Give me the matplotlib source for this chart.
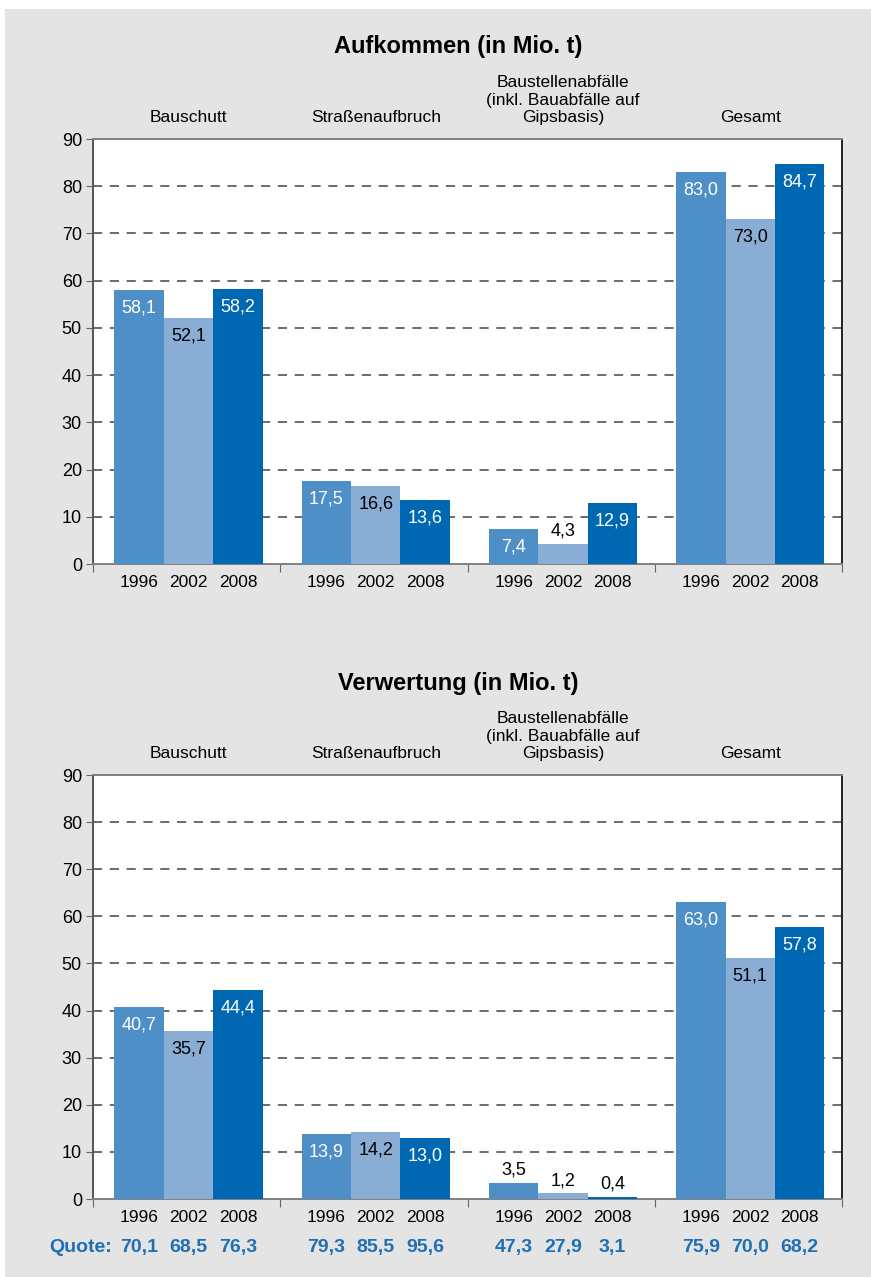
import matplotlib
matplotlib.use('Agg')
import matplotlib.pyplot as plt
import matplotlib.transforms as mtransforms
from matplotlib.patches import Rectangle
import numpy as np

plt.rcParams['font.family'] = ['Liberation Sans', 'DejaVu Sans']

categories = ['Bauschutt', 'Straßenaufbruch',
              'Baustellenabfälle\n(inkl. Bauabfälle auf\nGipsbasis)', 'Gesamt']
years = ['1996', '2002', '2008']

aufkommen_1996 = [58.1, 17.5, 7.4, 83.0]
aufkommen_2002 = [52.1, 16.6, 4.3, 73.0]
aufkommen_2008 = [58.2, 13.6, 12.9, 84.7]

verwertung_1996 = [40.7, 13.9, 3.5, 63.0]
verwertung_2002 = [35.7, 14.2, 1.2, 51.1]
verwertung_2008 = [44.4, 13.0, 0.4, 57.8]

quote_1996 = [70.1, 79.3, 47.3, 75.9]
quote_2002 = [68.5, 85.5, 27.9, 70.0]
quote_2008 = [76.3, 95.6, 3.1, 68.2]

yticks = [0, 10, 20, 30, 40, 50, 60, 70, 80, 90]

colors = ['#4f8fc8', '#8aadd6', '#0068b2']
label_colors = ['white', 'black', 'white']
bg = '#e3e4e3'
quote_blue = '#1f6fb6'

W, H = 871, 1277
fig = plt.figure(figsize=(W / 100, H / 100), dpi=100)
fig.patch.set_facecolor('white')
fig.patches.append(Rectangle((5 / W, 0), 1 - 5 / W, 1 - 9 / H,
                             transform=fig.transFigure, facecolor=bg,
                             edgecolor='none', zorder=-10))

bw = 0.264


def draw_panel(top_px, bottom_px, title, title_y, series, quotes=None):
    ax = fig.add_axes([93 / W, 1 - bottom_px / H, 749 / W, (bottom_px - top_px) / H])
    ax.set_facecolor('white')
    x = np.arange(len(categories)) + 0.5
    below = mtransforms.blended_transform_factory(ax.transData, ax.transAxes)
    for i, vals in enumerate(series):
        xs = x + (i - 1) * bw + 0.01
        ax.bar(xs, vals, width=bw, color=colors[i], zorder=3)
        for xv, v in zip(xs, vals):
            txt = f'{v:.1f}'.replace('.', ',')
            if v > 6:
                ax.annotate(txt, (xv, v), xytext=(0, -13), textcoords='offset points',
                            ha='center', va='center', fontsize=13,
                            color=label_colors[i], zorder=4)
            else:
                ax.annotate(txt, (xv, v), xytext=(0, 3), textcoords='offset points',
                            ha='center', va='bottom', fontsize=13,
                            color='black', zorder=4)
        # year labels under the axis
        for xv in xs:
            ax.annotate(years[i], (xv, 0), xycoords=below, xytext=(0, -13),
                        textcoords='offset points', ha='center', va='center',
                        fontsize=12.5)
        if quotes is not None:
            for xv, q in zip(xs, quotes[i]):
                ax.annotate(f'{q:.1f}'.replace('.', ','), (xv, 0), xycoords=below,
                            xytext=(0, -35), textcoords='offset points',
                            ha='center', va='center', fontsize=14,
                            fontweight='bold', color=quote_blue)
    if quotes is not None:
        trans = mtransforms.blended_transform_factory(fig.transFigure, ax.transAxes)
        ax.annotate('Quote:', (112 / W, 0), xycoords=trans, xytext=(0, -35),
                    textcoords='offset points', ha='right', va='center',
                    fontsize=14, fontweight='bold', color=quote_blue)

    ax.set_xlim(0, 4)
    ax.set_ylim(0, 90)
    ax.set_yticks(yticks)
    ax.set_xticks([0, 1, 2, 3, 4])
    ax.set_xticklabels([])
    ax.tick_params(axis='y', labelsize=13, length=5, color='#666', pad=3)
    ax.tick_params(axis='x', length=6, color='#666')
    for y in yticks[1:-1]:
        ax.axhline(y, color='#444', lw=1.1, ls=(0, (6, 5)), zorder=1)
    ax.spines['top'].set_color('#808080')
    ax.spines['bottom'].set_color('#808080')
    ax.spines['left'].set_color('#555')
    ax.spines['right'].set_color('#222')
    for s in ax.spines.values():
        s.set_linewidth(1.4)

    for xv, name in zip(x, categories):
        ax.annotate(name, (xv + 0.01, 1), xycoords=below, xytext=(0, 10),
                    textcoords='offset points', ha='center', va='bottom',
                    fontsize=12.5, linespacing=1.2)

    fig.text(458 / W, 1 - title_y / H, title, ha='center', va='center',
             fontsize=17, fontweight='bold')
    return ax


draw_panel(139, 564, 'Aufkommen (in Mio. t)', 46,
           [aufkommen_1996, aufkommen_2002, aufkommen_2008])
draw_panel(775, 1199, 'Verwertung (in Mio. t)', 683,
           [verwertung_1996, verwertung_2002, verwertung_2008],
           quotes=[quote_1996, quote_2002, quote_2008])

fig.savefig('out.png', dpi=100, facecolor=fig.get_facecolor())
